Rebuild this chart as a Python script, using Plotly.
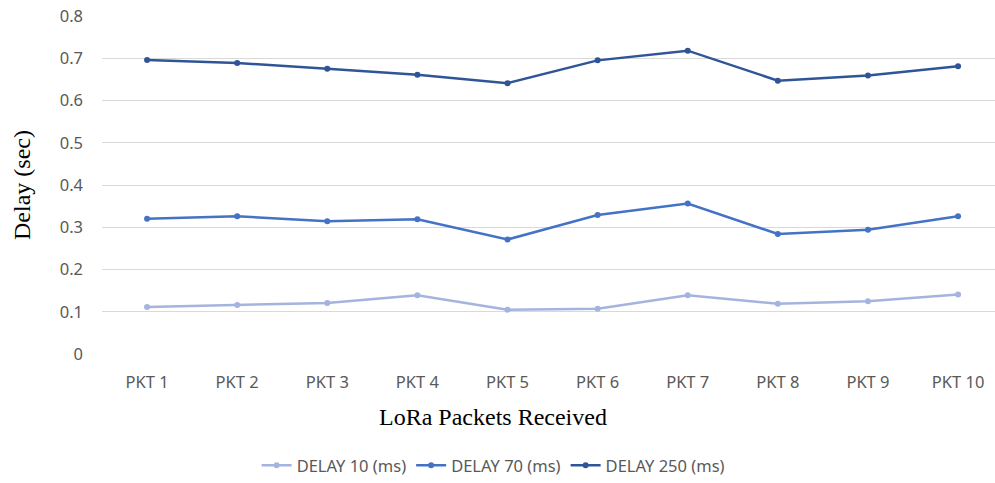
import plotly.graph_objects as go

categories = ["PKT 1", "PKT 2", "PKT 3", "PKT 4", "PKT 5", "PKT 6", "PKT 7", "PKT 8", "PKT 9", "PKT 10"]
delay_10 = [0.111, 0.116, 0.121, 0.139, 0.105, 0.107, 0.139, 0.119, 0.125, 0.141]
delay_70 = [0.320, 0.326, 0.314, 0.319, 0.271, 0.329, 0.356, 0.284, 0.294, 0.326]
delay_250 = [0.696, 0.689, 0.675, 0.661, 0.641, 0.695, 0.718, 0.647, 0.659, 0.681]
y_ticks = [0, 0.1, 0.2, 0.3, 0.4, 0.5, 0.6, 0.7, 0.8]
y_tick_text = ["0", "0.1", "0.2", "0.3", "0.4", "0.5", "0.6", "0.7", "0.8"]

series = [
    ("DELAY 10 (ms)", delay_10, "#A5B4DF"),
    ("DELAY 70 (ms)", delay_70, "#4472C4"),
    ("DELAY 250 (ms)", delay_250, "#2F5597"),
]

fig = go.Figure()
for name, vals, color in series:
    fig.add_trace(go.Scatter(
        x=list(range(len(categories))), y=vals, name=name, mode="lines+markers",
        line=dict(color=color, width=2.5), marker=dict(color=color, size=6),
    ))

tick_font = dict(family="Noto Sans, sans-serif", size=16.5, color="#595959")
legend_font = dict(family="Noto Sans, sans-serif", size=16.5, color="#595959")
title_font = dict(family="Liberation Serif, serif", size=24, color="#000000")
fig.update_layout(
    width=995, height=483,
    margin=dict(l=102, r=0, t=16, b=129),
    paper_bgcolor="white", plot_bgcolor="white",
    showlegend=True,
    legend=dict(orientation="h", x=0.438, xanchor="center", y=-0.331, yanchor="middle",
                font=legend_font, itemwidth=30, tracegroupgap=0),
    xaxis=dict(range=[-0.5, 9.41], tickmode="array", tickvals=list(range(len(categories))),
               ticktext=categories, showgrid=False, zeroline=False, showline=False,
               tickfont=tick_font, ticks="", ticklabelstandoff=16),
    yaxis=dict(range=[0, 0.8], tickmode="array", tickvals=y_ticks, ticktext=y_tick_text,
               showgrid=True, gridcolor="#D9D9D9", gridwidth=1, zeroline=False, showline=False,
               tickfont=tick_font, ticks="", ticklabelstandoff=18),
    annotations=[
        dict(text="LoRa Packets Received", xref="paper", yref="paper", x=0.438, y=(354 - 417) / 338,
             xanchor="center", yanchor="middle", showarrow=False, font=title_font),
        dict(text="Delay (sec)", xref="paper", yref="paper", x=(22 - 102) / 893, y=0.5,
             xanchor="center", yanchor="middle", showarrow=False, textangle=-90, font=title_font),
    ],
)

fig.write_html("out.html")
